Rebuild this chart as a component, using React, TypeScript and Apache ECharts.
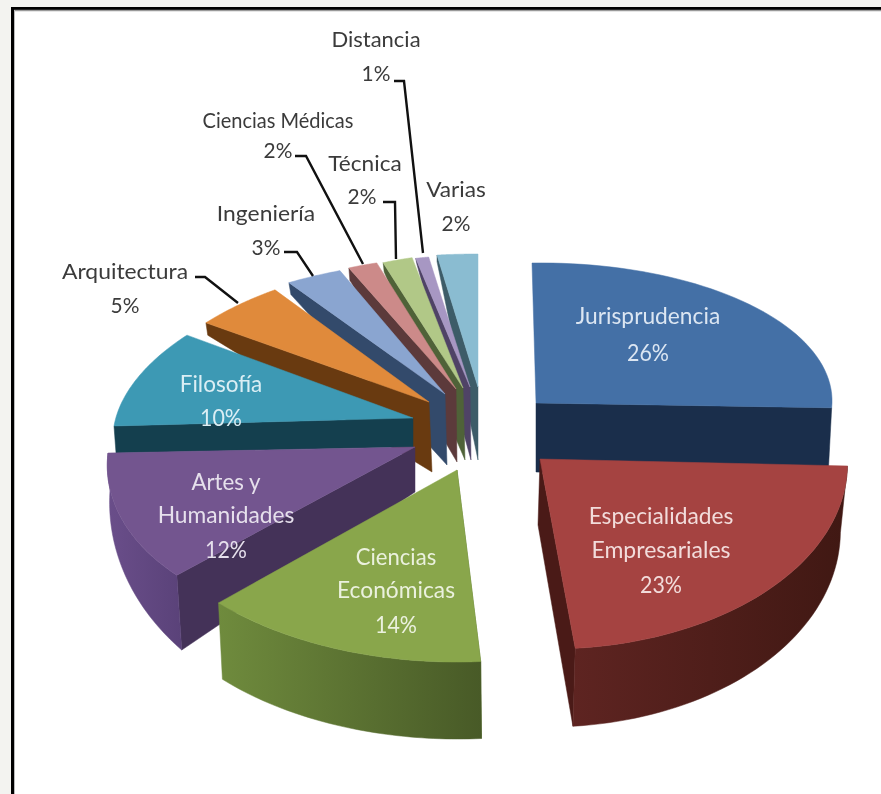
import React, { useEffect, useRef } from "react";
import * as echarts from "echarts";

const categories = ["Jurisprudencia","Especialidades Empresariales","Ciencias Económicas","Artes y Humanidades","Filosofía","Arquitectura","Ingeniería","Ciencias Médicas","Técnica","Distancia","Varias"];
const shares = [26, 23, 14, 12, 10, 5, 3, 2, 2, 1, 2];
const paintOrder = [10, 9, 8, 7, 6, 5, 4, 3, 2, 0, 1];

// projection of each exploded wedge: apex x, apex y, u(x,y), v(x,y) for top and bottom faces
const topFace = [
  [536,403,296,-4,-4,-140],[540,459,307,-5,-16,-190],[457,470,330,-2,-3,-192],[415,447,307,-6,21,-181],
  [413,418,299,-8,27,-152],[429,402,291,-6,21,-143],[445,394,300,5,25,-134],[456,389,241,8,-5,-130],
  [463,388,240,-7,-6,-134],[470,387,211,0,-15,-131],[478,387,327,0,0,-133],
];
const bottomFace = [
  [536,472,292,-4,-6,-205],[538,525,302,-5,-16,-202],[458,545,326,-2,-3,-194],[415,492,305,2,16,-233],
  [413,447,297,-6,27,-140],[432,472,291,-6,19,-241],[447,465,300,5,25,-207],[457,462,241,8,-5,-197],
  [465,460,240,-7,-7,-200],[471,460,211,0,-15,-200],[478,460,327,0,0,-200],
];
const topColors = ["#4470a6","#a54341","#89a64b","#73558f","#3d99b4","#e08a3b","#8aa5d0","#cc8a89","#b1c887","#a797c3","#8abcd1"];
const faceColors = ["#1a2e4b","#4a1a17","#57702f","#443258","#143f4e","#693a10","#334a6b","#5c3a3b","#4f6238","#4f4366","#3d5c68"];
// which cut face of each wedge the viewer sees
const cutFaceAtEnd = [true, true, false, false, false, false, false, false, false, false, false];
const wallColors: (string[] | null)[] = [
  null,["#5e2421","#401813"],["#6f8b3d","#485a27"],["#6a4e8a","#5a4279"],null,null,null,null,null,null,null,
];

const darkLabels = [
  { lines: ["Distancia", "1%"], x: [376, 376], y: [38, 73], squeeze: [1, 0.95] },
  { lines: ["Ciencias Médicas", "2%"], x: [278, 278], y: [119, 150], squeeze: [0.91, 0.95] },
  { lines: ["Técnica", "2%"], x: [365, 362], y: [163, 196], squeeze: [1.03, 0.95] },
  { lines: ["Varias", "2%"], x: [456, 456], y: [189, 223], squeeze: [1.03, 0.95] },
  { lines: ["Ingeniería", "3%"], x: [266, 266], y: [213, 247], squeeze: [1.04, 0.95] },
  { lines: ["Arquitectura", "5%"], x: [125, 125], y: [271, 305], squeeze: [1.04, 0.95] },
];
const lightLabels = [
  { lines: ["Jurisprudencia", "26%"], x: 648, y: [315, 352], color: "#dce6f2", squeeze: [0.99, 0.93] },
  { lines: ["Especialidades", "Empresariales", "23%"], x: 661, y: [515, 549, 584], color: "#f2dcdb", squeeze: [0.99, 1, 0.93] },
  { lines: ["Ciencias", "Económicas", "14%"], x: 396, y: [556, 589, 624], color: "#ebf1de", squeeze: [0.96, 0.99, 0.93] },
  { lines: ["Artes y", "Humanidades", "12%"], x: 226, y: [481, 514, 549], color: "#e6e0ec", squeeze: [0.97, 0.99, 0.93] },
  { lines: ["Filosofía", "10%"], x: 221, y: [383, 417], color: "#dbeef4", squeeze: [0.98, 0.93] },
];
const leaders = [
  [[394,81],[404,81],[423,253]],
  [[295,156],[306,156],[363,264]],
  [[383,202],[395,202],[396,259]],
  [[284,252],[297,252],[313,276]],
  [[195,277],[205,277],[238,303]],
];

const total = shares.reduce((a, b) => a + b, 0);
const startAngles: number[] = [];
shares.reduce((acc, v, i) => { startAngles[i] = acc; return acc + v; }, 0);

function pt(f: number[], t: number): number[] {
  return [f[0] + f[2] * Math.sin(t) + f[4] * Math.cos(t), f[1] + f[3] * Math.sin(t) + f[5] * Math.cos(t)];
}
function arc(f: number[], a: number, b: number): number[][] {
  const out: number[][] = [];
  const n = 48;
  for (let k = 0; k <= n; k++) out.push(pt(f, a + ((b - a) * k) / n));
  return out;
}

function renderWedge(_: any, api: any) {
  const i = api.value(0);
  const a = (startAngles[i] / total) * Math.PI * 2;
  const b = ((startAngles[i] + shares[i]) / total) * Math.PI * 2;
  const T = topFace[i], B = bottomFace[i];
  const tArc = arc(T, a, b), bArc = arc(B, a, b);
  const tA = [T[0], T[1]], bA = [B[0], B[1]];
  const poly = (points: number[][], fill: any) => ({
    type: "polygon", shape: { points }, style: { fill, stroke: fill, lineWidth: 0.5 },
  });
  const edge = cutFaceAtEnd[i] ? 48 : 0;
  const children: any[] = [poly([tA, tArc[edge], bArc[edge], bA], faceColors[i])];
  const wc = wallColors[i];
  if (wc) {
    const wall = new echarts.graphic.LinearGradient(0, 0, 1, 0, [
      { offset: 0, color: wc[0] }, { offset: 1, color: wc[1] },
    ]);
    children.push(poly([...tArc, ...bArc.slice().reverse()], wall));
  }
  children.push(poly([tA, ...tArc], topColors[i]));
  return { type: "group", children };
}

export default function App() {
  const ref = useRef<HTMLDivElement>(null);
  useEffect(() => {
    document.body.style.margin = "0";
    const chart = echarts.init(ref.current!, null, { renderer: "svg" });
    const graphic: any[] = [
      { type: "rect", z: 0, shape: { x: 0, y: 0, width: 881, height: 794 }, style: { fill: "#f3f3f0" } },
      { type: "rect", z: 0, shape: { x: 12, y: 8, width: 869, height: 786 }, style: { fill: "#ffffff" } },
      { type: "line", z: 1, shape: { x1: 11, y1: 8.5, x2: 881, y2: 8.5 }, style: { stroke: "#000000", lineWidth: 3 } },
      { type: "line", z: 1, shape: { x1: 12.5, y1: 8, x2: 12.5, y2: 794 }, style: { stroke: "#000000", lineWidth: 3 } },
      { type: "line", z: 1, shape: { x1: 14, y1: 10.5, x2: 881, y2: 10.5 }, style: { stroke: "#9a9a9a", lineWidth: 1.5 } },
      { type: "line", z: 1, shape: { x1: 14.5, y1: 10, x2: 14.5, y2: 794 }, style: { stroke: "#bbbbbb", lineWidth: 1 } },
    ];
    leaders.forEach((points) => graphic.push({
      type: "polyline", z: 100, shape: { points }, style: { stroke: "#111111", lineWidth: 2.4, fill: "none" },
    }));
    const text = (s: string, x: number, y: number, fill: string, size: number, scaleX: number) => ({
      type: "text", z: 100, x, y, scaleX,
      style: { text: s, fill, fontFamily: "Lato", fontSize: size, textAlign: "center", textVerticalAlign: "middle" },
    });
    darkLabels.forEach((l) => l.lines.forEach((s, k) => graphic.push(text(s, l.x[k], l.y[k], "#3b3b3b", 22, l.squeeze[k]))));
    lightLabels.forEach((l) => l.lines.forEach((s, k) => graphic.push(text(s, l.x, l.y[k], l.color, 23, l.squeeze[k]))));
    chart.setOption({
      animation: false,
      graphic,
      series: [{
        type: "custom",
        coordinateSystem: "none",
        silent: true,
        z: 10,
        renderItem: renderWedge,
        encode: { value: 0 },
        data: paintOrder.map((i) => ({ name: categories[i], value: [i, shares[i]] })),
      }],
    });
    return () => chart.dispose();
  }, []);
  return <div ref={ref} style={{ position: "fixed", left: 0, top: 0, width: 881, height: 794 }} />;
}
